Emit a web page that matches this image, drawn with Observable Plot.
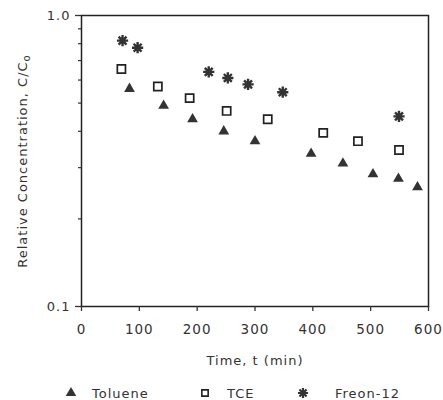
<!DOCTYPE html>
<html>
<head>
<meta charset="utf-8">
<script src="https://cdn.jsdelivr.net/npm/d3@7"></script>
<script src="https://cdn.jsdelivr.net/npm/@observablehq/plot@0.6"></script>
<style>
  body { margin: 0; background: white; }
  #wrap { position: relative; width: 443px; height: 400px; background: white; }
  #legend { position: absolute; left: 0; top: 383px; }
  #chart svg text { font-size: 13px; font-style: normal; letter-spacing: 1px; }
  #chart svg g[aria-label="x-axis tick label"] text { font-size: 13.5px; }
</style>
</head>
<body>
<div id="wrap"><div id="chart"></div><div id="legend"></div></div>
<script>
// ---- data ----
const series = ["Toluene", "TCE", "Freon-12"];
const tolueneTime = [83, 142, 192, 246, 300, 397, 452, 504, 548, 581];
const tolueneConc = [0.56, 0.49, 0.44, 0.40, 0.37, 0.335, 0.31, 0.285, 0.275, 0.257];
const tceTime = [69, 132, 187, 251, 322, 418, 478, 549];
const tceConc = [0.655, 0.57, 0.52, 0.47, 0.44, 0.395, 0.37, 0.345];
const freonTime = [71, 97, 220, 253, 288, 348, 549];
const freonConc = [0.82, 0.775, 0.64, 0.61, 0.58, 0.545, 0.45];
const xTicks = [0, 100, 200, 300, 400, 500, 600];
const yMajorTicks = [0.1, 1.0];
const yMinorTicks = [0.2, 0.3, 0.4, 0.5, 0.6, 0.7, 0.8, 0.9];

const toluene = tolueneTime.map((t, i) => ({t, c: tolueneConc[i]}));
const tce = tceTime.map((t, i) => ({t, c: tceConc[i]}));
const freon = freonTime.map((t, i) => ({t, c: freonConc[i]}));

// 8-armed star symbol for Freon-12
const star8 = {
  draw(context, size) {
    const r = Math.sqrt(size / Math.PI);
    for (let k = 0; k < 4; k++) {
      const a = k * Math.PI / 4;
      context.moveTo(r * Math.cos(a), r * Math.sin(a));
      context.lineTo(-r * Math.cos(a), -r * Math.sin(a));
    }
  }
};

const ink = "#333";
const font = "DejaVu Sans";

const chart = Plot.plot({
  width: 443,
  height: 370,
  marginTop: 15,
  marginLeft: 81,
  marginRight: 15,
  marginBottom: 64,
  style: {fontFamily: font, fontSize: "13px", color: ink, background: "white", overflow: "visible"},
  x: {domain: [0, 600]},
  y: {type: "log", domain: [0.1, 1]},
  marks: [
    Plot.frame({stroke: "#222", strokeWidth: 1.5}),
    Plot.axisX({ticks: xTicks, tickSize: 5, tickPadding: 13, strokeWidth: 1.3,
      label: "Time, t (min)", labelAnchor: "center", labelOffset: 58, labelArrow: "none"}),
    Plot.axisY({ticks: yMajorTicks, tickSize: 6, tickPadding: 5, strokeWidth: 1.3,
      tickFormat: d => d.toFixed(1),
      label: "Relative Concentration, C/C", labelAnchor: "center", labelOffset: 64, labelArrow: "none"}),
    Plot.axisY({ticks: yMinorTicks, tickSize: 3, strokeWidth: 1.2, tickFormat: () => "", label: null}),
    Plot.dot(toluene, {x: "t", y: "c", symbol: "triangle", r: 4, fill: "#333", stroke: "none"}),
    Plot.dot(tce, {x: "t", y: "c", symbol: "square", r: 4.6, fill: "white", stroke: "#222", strokeWidth: 1.7}),
    Plot.dot(freon, {x: "t", y: "c", symbol: star8, r: 5.6, fill: "none", stroke: "#333", strokeWidth: 2.4})
  ]
});
document.getElementById("chart").appendChild(chart);

// subscript o in the y label
const svg = d3.select(chart);
svg.selectAll('g[aria-label="y-axis label"] text').each(function() {
  const t = d3.select(this);
  t.append("tspan").attr("dy", "0.3em").style("font-size", "10px").text("o");
});

// legend below the chart
const legendItems = [
  {name: series[0], sx: 71, tx: 92, sym: d3.symbolTriangle, size: 48, fill: "#333", stroke: "none", sw: 0},
  {name: series[1], sx: 205, tx: 227, sym: d3.symbolSquare, size: 40, fill: "white", stroke: "#222", sw: 1.6},
  {name: series[2], sx: 303, tx: 335, sym: star8, size: 80, fill: "none", stroke: "#333", sw: 2.2}
];
const leg = d3.select("#legend").append("svg").attr("width", 443).attr("height", 20)
  .style("font-family", font).style("font-size", "13px");
for (const it of legendItems) {
  leg.append("path").attr("transform", `translate(${it.sx},10)`)
    .attr("d", d3.symbol(it.sym, it.size)())
    .attr("fill", it.fill).attr("stroke", it.stroke).attr("stroke-width", it.sw);
  leg.append("text").attr("x", it.tx).attr("y", 15).attr("fill", ink)
    .attr("letter-spacing", "1px").text(it.name);
}
</script>
</body>
</html>
